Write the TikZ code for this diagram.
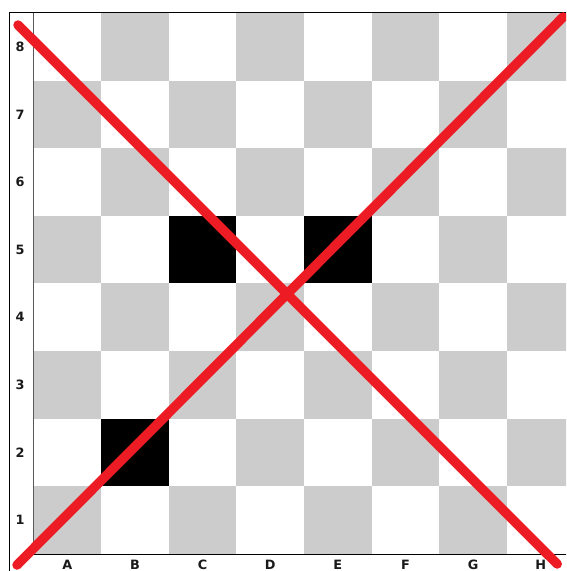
\documentclass[tikz,border=0pt]{standalone}
\usepackage{fontspec}
\newfontfamily\labelfont{DejaVu Sans}
\usetikzlibrary{positioning}
\definecolor{squaregray}{HTML}{CCCCCC}
\definecolor{crossred}{HTML}{ED1C24}
\definecolor{labelink}{HTML}{1A1A1A}
\tikzstyle{darksq} = [fill=squaregray]
\tikzstyle{blocked} = [fill=black]
\tikzstyle{frame} = [draw=black, line width=0.4pt]
\tikzstyle{rankline} = [draw=black!65, line width=0.7pt]
\tikzstyle{coordlabel} = [inner sep=0pt, text=labelink, font=\labelfont\bfseries\fontsize{5.4}{6}\selectfont]
\tikzstyle{cross} = [crossred, line width=4pt, line cap=round]

\begin{document}
\begin{tikzpicture}
			
			\useasboundingbox (-0.4956,-0.2515) rectangle (7.877,8.192);
			\clip (-0.4956,-0.2515) rectangle (7.877,8.192);
			
			% Papan 8x8
			\foreach \col in {0,...,7} {
				\foreach \row in {0,...,7} {
					\pgfmathtruncatemacro{\parity}{mod(\col+\row,2)}
					\ifnum\parity=0
						\fill [darksq] (\col,\row) rectangle ++(1,1);
					\fi
				}
			}
			
			% Petak hitam
			\fill [blocked] (2,4) rectangle ++(1,1);
			\fill [blocked] (4,4) rectangle ++(1,1);
			\fill [blocked] (1,1) rectangle ++(1,1);
			
			% Bingkai
			\draw [frame] (-0.355,-0.3) -- (-0.355,8) -- (8.2,8);
			\draw [frame] (0,0) -- (8.2,0);
			\draw [rankline] (0,0) -- (0,8);
			
			% Label baris
			\foreach \r in {1,...,8} {
				\node (rank\r) [coordlabel] at (-0.2,\r-0.5) {\r};
			}
			
			% Label kolom
			\foreach \f [count=\i from 0] in {A,B,C,D,E,F,G,H} {
				\node (file\f) [coordlabel] at (\i+0.5,-0.163) {\f};
			}
			
			% Tanda silang
			\coordinate (topleft) at (-0.229,7.822);
			\coordinate (bottomright) at (7.744,-0.148);
			\coordinate (bottomleft) at (-0.244,-0.163);
			\coordinate (topright) at (7.833,7.941);
			\draw [cross] (topleft) -- (bottomright);
			\draw [cross] (bottomleft) -- (topright);
			
		\end{tikzpicture}
\end{document}
